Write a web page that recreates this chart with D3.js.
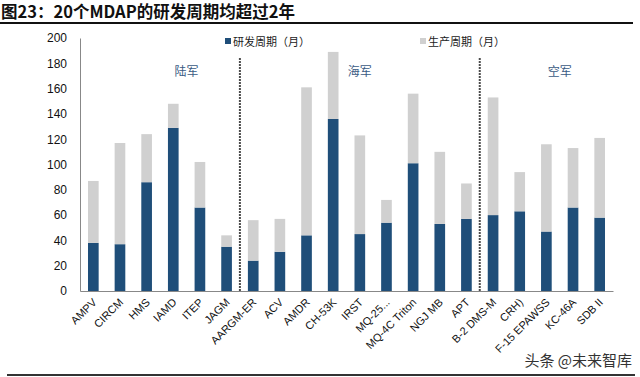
<!DOCTYPE html>
<html>
<head>
<meta charset="utf-8">
<script src="https://cdn.jsdelivr.net/npm/d3@7/dist/d3.min.js"></script>
<style>
  html, body { margin: 0; padding: 0; background: #fff; }
  svg { display: block; }
</style>
</head>
<body>
<svg id="chart" width="640" height="377"></svg>
<script>
const categories = ["AMPV","CIRCM","HMS","IAMD","ITEP","JAGM","AARGM-ER","ACV","AMDR","CH-53K","IRST","MQ-25...","MQ-4C Triton","NGJ MB","APT","B-2 DMS-M","CRH)","F-15 EPAWSS","KC-46A","SDB II"];
const rdMonths   = [38, 37, 86, 129, 66, 35, 24, 31, 44, 136, 45, 54, 101, 53, 57, 60, 63, 47, 66, 58];
const totalMonths = [87, 117, 124, 148, 102, 44, 56, 57, 161, 189, 123, 72, 156, 110, 85, 153, 94, 116, 113, 121];
const prodMonths = totalMonths.map((t, i) => t - rdMonths[i]);
const yTicks = [0, 20, 40, 60, 80, 100, 120, 140, 160, 180, 200];
const seriesNames = ["研发周期（月）", "生产周期（月）"];
const groupLabels = ["陆军", "海军", "空军"];
const groupCenters = ["ITEP", "IRST", "KC-46A"];
const groupOffsets = [-0.5, 0, -0.5];
const dividerAfter = ["JAGM", "APT"];

const colors = { rd: "#1f4e79", prod: "#d0d0d0" };

const svg = d3.select("#chart");

const x = d3.scaleBand().domain(categories).range([80, 613]).paddingInner(0.6).paddingOuter(0.3);
const y = d3.scaleLinear().domain([0, 200]).range([291, 38]);

const rows = categories.map((c, i) => ({ cat: c, rd: rdMonths[i], prod: prodMonths[i] }));
const stack = d3.stack().keys(["rd", "prod"])(rows);

// Title
svg.append("text").attr("x", 1).attr("y", 18)
  .attr("font-family", "'Noto Sans CJK SC', sans-serif").attr("font-weight", "bold")
  .attr("font-size", 16.5).attr("fill", "#111")
  .text("图23：20个MDAP的研发周期均超过2年");
svg.append("line").attr("x1", 0).attr("x2", 633).attr("y1", 23).attr("y2", 23)
  .attr("stroke", "#111").attr("stroke-width", 2);
svg.append("line").attr("x1", 7).attr("x2", 635).attr("y1", 375).attr("y2", 375)
  .attr("stroke", "#333").attr("stroke-width", 2);

// Bars
svg.append("g").selectAll("g").data(stack).join("g")
  .attr("fill", d => d.key === "rd" ? colors.rd : colors.prod)
  .selectAll("rect").data(d => d).join("rect")
  .attr("x", d => x(d.data.cat))
  .attr("width", x.bandwidth())
  .attr("y", d => y(d[1]))
  .attr("height", d => y(d[0]) - y(d[1]));

// Y axis
const yAxis = d3.axisLeft(y).tickValues(yTicks).tickSize(0).tickPadding(13);
const gy = svg.append("g").attr("transform", "translate(80,0)").call(yAxis);
gy.select(".domain").attr("stroke", "#888").attr("stroke-width", 1);
gy.selectAll("text").attr("font-family", "'Liberation Sans', Arial, sans-serif")
  .attr("font-size", 12).attr("fill", "#111");

// X axis
const xAxis = d3.axisBottom(x).tickSize(0).tickPadding(0);
const gx = svg.append("g").attr("transform", "translate(0,291)").call(xAxis);
gx.select(".domain").attr("stroke", "#888").attr("stroke-width", 1);
gx.selectAll("text")
  .attr("font-family", "'Liberation Sans', Arial, sans-serif")
  .attr("font-size", 11).attr("fill", "#111")
  .attr("text-anchor", "end")
  .attr("dy", "0")
  .attr("transform", "translate(4,12) rotate(-45)");

// Dividers
dividerAfter.forEach(c => {
  const xd = x(c) + x.bandwidth() / 2 + x.step() / 2;
  svg.append("line").attr("x1", xd).attr("x2", xd).attr("y1", y(184)).attr("y2", y(0))
    .attr("stroke", "#111").attr("stroke-width", 2).attr("stroke-dasharray", "1.5,1.5");
});

// Group labels
groupLabels.forEach((g, i) => {
  const cx = x(groupCenters[i]) + x.bandwidth() / 2 + groupOffsets[i] * x.step();
  svg.append("text").attr("x", cx).attr("y", 76).attr("text-anchor", "middle")
    .attr("font-family", "'Noto Sans CJK SC', serif").attr("font-size", 12)
    .attr("fill", "#3b5b84").text(g);
});

// Legend
const legendX = [225, 420];
seriesNames.forEach((n, i) => {
  svg.append("rect").attr("x", legendX[i]).attr("y", 38).attr("width", 6).attr("height", 6)
    .attr("fill", i === 0 ? colors.rd : colors.prod);
  svg.append("text").attr("x", legendX[i] + 8).attr("y", 45.5)
    .attr("font-family", "'Noto Sans CJK SC', sans-serif").attr("font-size", 11)
    .attr("fill", "#222").text(n);
});

// Watermark
svg.append("text").attr("x", 632).attr("y", 366).attr("text-anchor", "end")
  .attr("font-family", "'Noto Sans CJK SC', sans-serif").attr("font-size", 15)
  .attr("fill", "#333").text("头条 @未来智库");
</script>
</body>
</html>
